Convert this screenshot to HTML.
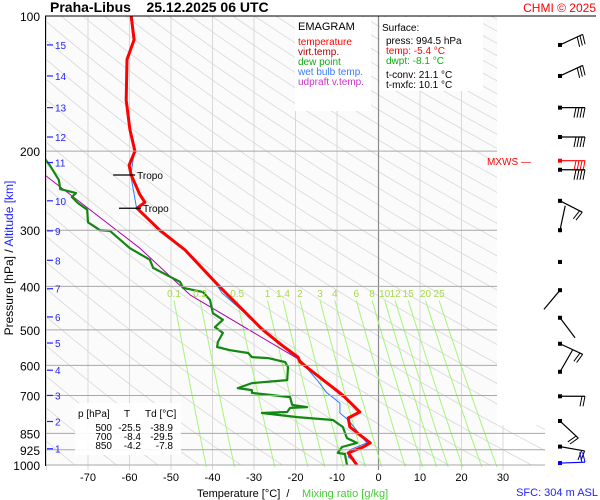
<!DOCTYPE html>
<html><head><meta charset="utf-8">
<style>
html,body{margin:0;padding:0;background:#fff}
svg{display:block;font-family:"Liberation Sans",Arial,sans-serif}
</style></head>
<body>
<svg id="chart" width="600" height="500" viewBox="0 0 600 500" xmlns="http://www.w3.org/2000/svg">
<defs>
<clipPath id="plotclip"><polygon points="45,16 497,16 497,425 545,425 545,470 45,470"/></clipPath>
</defs>
<rect x="0" y="0" width="600" height="500" fill="#fff"/>
<rect x="45" y="16" width="452" height="449" fill="#fbfbfb"/>
<g id="grid" clip-path="url(#plotclip)"></g>
<g id="series" clip-path="url(#plotclip)"></g>
<g id="axes"></g>
<g id="barbs"></g>

<text x="50" y="12" font-size="14" font-weight="bold" fill="#000" xml:space="preserve">Praha-Libus    25.12.2025 06 UTC</text>
<text x="596" y="12" font-size="12" fill="#f00" text-anchor="end">CHMI © 2025</text>

<g>
<rect x="295" y="17" width="76" height="94" fill="#fff"/>
<text x="298" y="30" font-size="11" fill="#000">EMAGRAM</text>
<text x="298" y="45" font-size="10" fill="#f00">temperature</text>
<text x="298" y="55" font-size="10" fill="#a00">virt.temp.</text>
<text x="298" y="65" font-size="10" fill="#1a1">dew point</text>
<text x="298" y="75" font-size="10" fill="#3a7aff">wet bulb temp.</text>
<text x="298" y="85" font-size="10" fill="#c3c">udpraft v.temp.</text>
</g>
<g>
<rect x="380" y="17" width="103" height="74" fill="#fff"/>
<text x="382" y="31" font-size="10" fill="#000">Surface:</text>
<text x="386" y="44" font-size="10" fill="#000">press: 994.5 hPa</text>
<text x="386" y="54" font-size="10" fill="#f00">temp: -5.4 °C</text>
<text x="386" y="64" font-size="10" fill="#1a1">dwpt: -8.1 °C</text>
<text x="386" y="78" font-size="10" fill="#000">t-conv: 21.1 °C</text>
<text x="386" y="88" font-size="10" fill="#000">t-mxfc: 10.1 °C</text>
</g>
<g font-size="10" fill="#000">
<rect x="75" y="403" width="106" height="52" fill="#fff" opacity="0.9"/>
<text x="78" y="417">p [hPa]</text><text x="124" y="417">T</text><text x="145" y="417">Td [°C]</text>
<g text-anchor="end">
<text x="112" y="431">500</text><text x="141" y="431">-25.5</text><text x="173" y="431">-38.9</text>
<text x="112" y="440">700</text><text x="141" y="440">-8.4</text><text x="173" y="440">-29.5</text>
<text x="112" y="449">850</text><text x="141" y="449">-4.2</text><text x="173" y="449">-7.8</text>
</g>
</g>

<text x="197" y="497" font-size="11" fill="#000" xml:space="preserve">Temperature [°C]  /  </text>
<text x="302" y="497" font-size="11" fill="#4c3">Mixing ratio [g/kg]</text>
<text x="598" y="496" font-size="11" fill="#22f" text-anchor="end">SFC: 304 m ASL</text>
<text transform="translate(13,258) rotate(-90)" font-size="12" text-anchor="middle"><tspan fill="#000">Pressure [hPa]  /  </tspan><tspan fill="#22f">Altitude [km]</tspan></text>
<text x="487" y="165" font-size="10" fill="#f00">MXWS —</text>
</svg>
<script>
// ---- data ----
const tempP = [100,113,125,154,179,200,215,226,250,260,268,300,332,397,498,541,575,590,699,762,786,823,893,912,940,1000];
const tempT = [-59.6,-58.9,-60.6,-60.8,-59.9,-58.7,-60.1,-59.6,-57.5,-56.3,-58.2,-52.7,-46.6,-38.7,-28.1,-23.3,-19.4,-18.9,-8.6,-4.5,-7.3,-6.9,-2.0,-3.7,-7.3,-5.2];
const dewP = [208,215,232,243,248,253,261,270,288,300,301,329,349,364,381,391,403,412,429,459,475,493,508,532,546,555,563,575,578,590,605,647,657,674,681,691,706,735,743,746,762,766,782,794,823,871,893,912,940,945,1000];
const dewT = [-80.4,-79.2,-77.0,-76.7,-72.9,-73.9,-72.4,-70.2,-70.0,-67.1,-64.7,-59.9,-55.1,-54.3,-50.2,-47.8,-47.1,-42.3,-40.6,-39.9,-37.5,-39.4,-37.5,-38.7,-38.9,-35.8,-31.4,-30.5,-26.6,-22.5,-21.8,-22.0,-30.5,-33.9,-30.5,-30.5,-21.3,-20.8,-17.2,-21.3,-22.0,-28.1,-19.6,-11.0,-8.6,-7.6,-5.2,-8.8,-9.8,-8.1,-7.6];
const wetP = [100,113,125,154,179,200,226,268,300,332,397,414,514,563,575,647,691,728,766,794,893,925,960,990];
const wetT = [-59.8,-59.1,-60.7,-60.9,-60.0,-58.8,-59.7,-58.3,-52.9,-46.8,-39.0,-37.7,-26.1,-21.3,-19.6,-14.8,-12.4,-9.3,-9.3,-7.3,-2.8,-6.9,-7.3,-5.2];
const updP = [226,329,418,584,706];
const updT = [-80.4,-57.5,-45.4,-18.9,-8.6];
const tropoP = [226,268];
const tempTicks = [-70,-60,-50,-40,-30,-20,-10,0,10,20,30];
const isoTemps = [-80,-70,-60,-50,-40,-30,-20,-10,0,10,20,30];
const pressTicks = [100,200,300,400,500,600,700,850,925,1000];
const altKm = [15,14,13,12,11,10,9,8,7,6,5,4,3,2,1];
const altP = [116,136,160,186,212,258,301,350,405,468,535,615,700,800,920];
const mixRatios = [0.1,0.2,0.5,1,1.4,2,3,4,6,8,10,12,15,20,25];
const mixLabels = ["0.1","0.2","0.5","1","1.4","2","3","4","6","8","10","12","15","20","25"];
const barbP = [116,136,160,186,210,220,258,300,353,408,470,537,620,703,798,910,990];
const barbAngle = [-25,-25,0,0,0,0,27,-78,0,130,53,25,-60,0,43,10,-2];
const barbCount = [3,3,4,4,4,4,2,0,-1,0,0,2,0,2,2,2,2];

// ---- axes ----
const X = T => 378.5 + 4.15*T;
const Y = p => 16 + 195*Math.log(p/100);
const NS = "http://www.w3.org/2000/svg";
function mk(tag, attrs, parent){const e=document.createElementNS(NS,tag);for(const k in attrs)e.setAttribute(k,attrs[k]);parent.appendChild(e);return e;}
const grid=document.getElementById('grid'), series=document.getElementById('series'), axes=document.getElementById('axes'), barbs=document.getElementById('barbs');

// dry adiabats
for(let th=180; th<=620; th+=10){
  let pts=[];
  for(let p=100;p<=1000;p+=10){pts.push(X(th*Math.pow(p/1000,0.286)-273.15).toFixed(1)+","+Y(p).toFixed(1));}
  const l=mk('polyline',{points:pts.join(' '),fill:'none',stroke:'#d8d8d8','stroke-width':'0.8'},grid);
  
  
}
// isotherms
isoTemps.forEach(t=>{
  const l=mk('line',{x1:X(t),x2:X(t),y1:16,y2:470,stroke:t===0?'#8a8a8a':'#d8d8d8','stroke-width':t===0?1.2:1},grid);
  
  
});
// mixing ratio lines
function tdFromW(w,p){const e=w*p/(622+w);const a=Math.log(e/6.112);return 243.5*a/(17.67-a);}
mixRatios.forEach((w,i)=>{
  let pts=[];
  for(let p=430;p<=1010;p+=20){pts.push(X(tdFromW(w,p)).toFixed(1)+","+Y(p).toFixed(1));}
  const l=mk('polyline',{points:pts.join(' '),fill:'none',stroke:'#a6f57a','stroke-width':'1'},grid);
  
  
  const t=mk('text',{x:X(tdFromW(w,430)),y:297,'font-size':10,fill:'#a6d94a','text-anchor':'middle'},axes);
  t.textContent=mixLabels[i];
  
  
});
// isobars
pressTicks.forEach(p=>{
  const right = p>=850?545:497;
  const l=mk('line',{x1:45,x2:right,y1:Y(p),y2:Y(p),stroke:p===100?'#000':'#a8a8a8','stroke-width':1},axes);
  
  
  const t=mk('text',{x:40,y:Y(p)+5,'font-size':12,fill:'#000','text-anchor':'end'},axes);
  t.textContent=p;
  
  
});
{const l=mk('line',{x1:497,x2:596,y1:16,y2:16,stroke:'#000','stroke-width':1},axes);

}
{const l=mk('line',{x1:45.5,x2:45.5,y1:16,y2:466,stroke:'#000','stroke-width':1},axes);

}
tempTicks.forEach(t=>{
  const e=mk('text',{x:X(t),y:481,'font-size':11,fill:'#000','text-anchor':'middle'},axes);
  e.textContent=t;
  
  
});
altKm.forEach((k,i)=>{
  const y=Y(altP[i]);
  const l=mk('line',{x1:47,x2:53,y1:y,y2:y,stroke:'#22f','stroke-width':1.2},axes);
  
  
  const t=mk('text',{x:55,y:y+4,'font-size':10,fill:'#22f'},axes);
  t.textContent=k;
  
  
});

// series
function line(P,T,color,w,name){
  const pts=P.map((p,i)=>X(T[i]).toFixed(1)+","+Y(p).toFixed(1)).join(' ');
  const l=mk('polyline',{points:pts,fill:'none',stroke:color,'stroke-width':w,'stroke-linejoin':'round'},series);
  
  
}
line(updP,updT,'#b000b0',1,'updraft-line');
line(dewP,dewT,'#118811',2.2,'dewpoint-line');
line(wetP,wetT,'#2a7aff',1,'wet-bulb-line');
line(tempP,tempT,'#ff0000',3,'temperature-line');

// tropopause markers
tropoP.forEach((p,i)=>{
  const y=Y(p); const x=X(tempT[tempP.indexOf(p)]);
  const l=mk('line',{x1:x-18,x2:x+4,y1:y,y2:y,stroke:'#000','stroke-width':1.2},axes);
  
  
  const t=mk('text',{x:x+6,y:y+4,'font-size':10,fill:'#000'},axes);
  t.textContent='Tropo';
  
  
});

// wind barbs
barbP.forEach((p,i)=>{
  const x0=560,y0=Y(p);
  const col = i===4?'#f00':(i===barbP.length-1?'#00f':'#000');
  const g=mk('g',{},barbs);
  
  
  mk('rect',{x:x0-2,y:y0-2,width:4,height:4,fill:col},g);
  if(barbCount[i]<0) return;
  const a=barbAngle[i]*Math.PI/180, L=25;
  const ux=Math.cos(a),uy=Math.sin(a);
  const side = i===barbP.length-1?-1:1;
  const nx=-uy*side, ny=ux*side;
  mk('line',{x1:x0,y1:y0,x2:x0+ux*L,y2:y0+uy*L,stroke:col,'stroke-width':1.2},g);
  for(let k=0;k<barbCount[i];k++){
    const d=L-k*3;
    const bx=x0+ux*d,by=y0+uy*d;
    mk('line',{x1:bx,y1:by,x2:bx+nx*10-ux*2,y2:by+ny*10-uy*2,stroke:col,'stroke-width':1},g);
  }
});
</script>
</body></html>
